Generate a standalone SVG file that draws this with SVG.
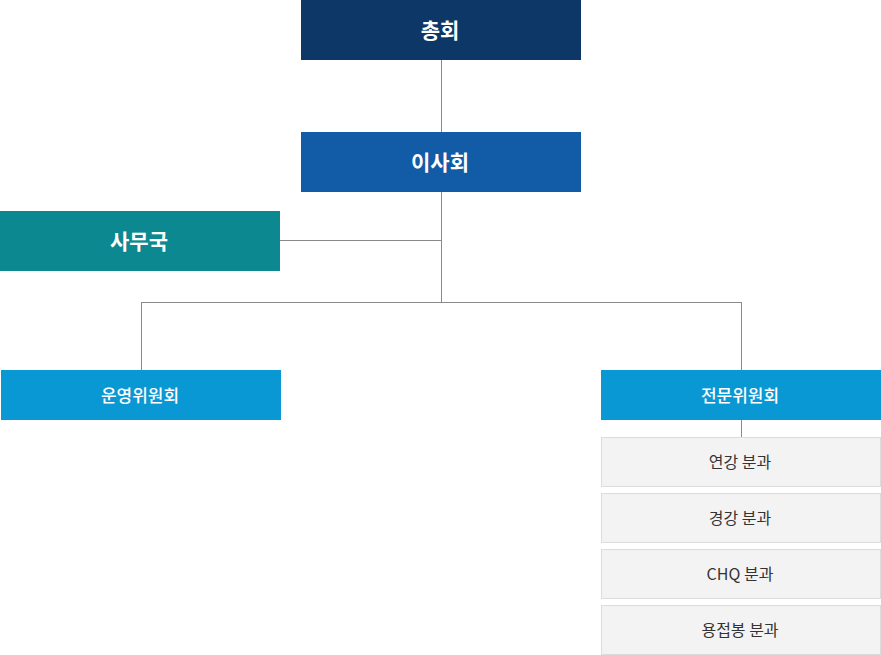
<svg xmlns="http://www.w3.org/2000/svg" width="881" height="655" viewBox="0 0 881 655">
<style>
text{font-family:"Noto Sans CJK KR","Noto Sans",sans-serif;text-anchor:middle;dominant-baseline:central}
.t1{font-size:21px;font-weight:700;fill:#fff}
.t2{font-size:17px;font-weight:500;fill:#fff}
.t3{font-size:16px;font-weight:400;fill:#333}
.sub{fill:#f3f3f3;stroke:#dcdcdc;stroke-width:1}
.ln{stroke:#8a8a8a;stroke-width:1;fill:none}
</style>
<rect width="881" height="655" fill="#fff"/>
<g id="connectors">
<path class="ln" d="M441.5 60V132M441.5 192V302M280 240.5H441.5M141.5 302.5H741.5M141.5 302V370M741.5 302V370M741.5 420V437"/>
</g>
<g id="n-assembly"><rect x="301" y="0" width="280" height="60" fill="#0c3766"/><text class="t1" x="440" y="29">총회</text></g>
<g id="n-board"><rect x="301" y="132" width="280" height="60" fill="#115ba7"/><text class="t1" x="440" y="161">이사회</text></g>
<g id="n-secretariat"><rect x="0" y="211" width="280" height="60" fill="#0c8990"/><text class="t1" x="139" y="240">사무국</text></g>
<g id="n-steering"><rect x="1" y="370" width="280" height="50" fill="#0a98d4"/><text class="t2" x="140" y="394">운영위원회</text></g>
<g id="n-expert"><rect x="601" y="370" width="280" height="50" fill="#0a98d4"/><text class="t2" x="740" y="394">전문위원회</text></g>
<g id="n-sub1"><rect class="sub" x="601.5" y="437.5" width="279" height="49"/><text class="t3" x="740" y="461">연강 분과</text></g>
<g id="n-sub2"><rect class="sub" x="601.5" y="493.5" width="279" height="49"/><text class="t3" x="740" y="517">경강 분과</text></g>
<g id="n-sub3"><rect class="sub" x="601.5" y="549.5" width="279" height="49"/><text class="t3" x="740" y="573">CHQ 분과</text></g>
<g id="n-sub4"><rect class="sub" x="601.5" y="605.5" width="279" height="49"/><text class="t3" x="740" y="629">용접봉 분과</text></g>
</svg>
